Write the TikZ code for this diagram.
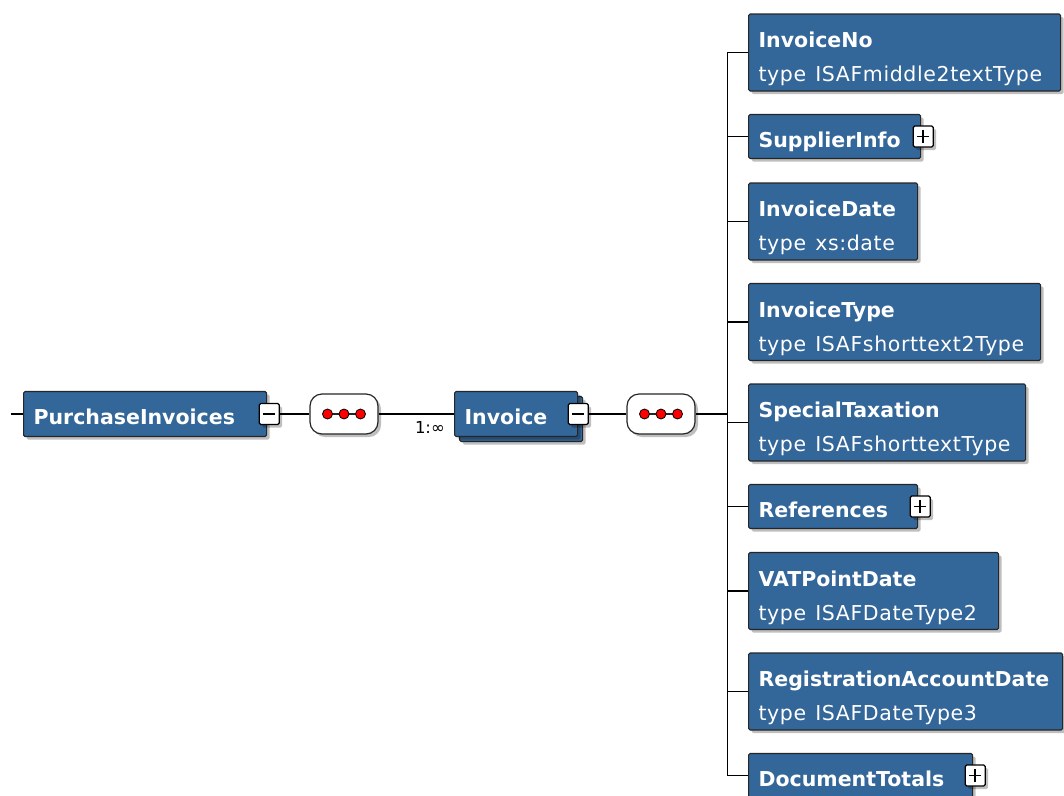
\documentclass[tikz,border=0pt]{standalone}
\usepackage{fontspec}
\setmainfont{DejaVu Sans}
\newfontfamily\typefont{DejaVu Sans}[LetterSpace=3]
\usetikzlibrary{shadows}
\definecolor{boxblue}{RGB}{51,102,153}

\begin{document}
\begin{tikzpicture}[x=1pt, y=-1pt,
  every node/.style={font=\fontsize{20.5}{34}\selectfont},
  conn/.style={line width=1.5pt, black},
  shade/.style={drop shadow={shadow xshift=3pt, shadow yshift=-3pt, fill=black, opacity=0.25}},
  elem/.style={draw=black!85, line width=1.2pt, fill=boxblue, rounded corners=1.5pt, text=white,
    anchor=west, inner xsep=10pt, inner ysep=0pt, align=left, font=\fontsize{20.5}{34}\selectfont\bfseries, shade},
  minusbox/.style={draw=black, fill=white, line width=1.2pt, rounded corners=1.5pt, minimum width=20pt,
    minimum height=21pt, inner sep=0pt, shade,
    path picture={\draw[line width=1.5pt] ([xshift=4pt]path picture bounding box.west) -- ([xshift=-4pt]path picture bounding box.east);}},
  plusbox/.style={draw=black, fill=white, line width=1.2pt, rounded corners=1.5pt, minimum width=20pt,
    minimum height=21pt, inner sep=0pt, shade,
    path picture={
      \draw[line width=1.5pt] ([xshift=4pt]path picture bounding box.west) -- ([xshift=-4pt]path picture bounding box.east);
      \draw[line width=1.5pt] ([yshift=4pt]path picture bounding box.south) -- ([yshift=-4pt]path picture bounding box.north);
    }},
  seqbox/.style={draw=black!85, line width=1.2pt, fill=white, rounded corners=12pt, minimum width=68pt,
    minimum height=40pt, inner sep=0pt, shade,
    path picture={
      \draw[line width=1.2pt] ([xshift=-16.5pt]path picture bounding box.center) -- ([xshift=16.5pt]path picture bounding box.center);
      \foreach \dx in {-16.5,0,16.5}
        \filldraw[fill=red, draw=black, line width=0.8pt] ([xshift=\dx pt]path picture bounding box.center) circle (5pt);
    }}]

  \useasboundingbox (0,0) rectangle (1064,795);
  \clip (0,0) rectangle (1064,795);

  \def\rowy{414}
  \def\busx{727.5}

  \coordinate (root) at (11,\rowy);
  \node[elem, minimum width=243pt, text width=223pt, minimum height=45pt, text height=33pt, text depth=12pt] (pi) at (23,\rowy) {PurchaseInvoices};
  \node[minusbox] (pi-m) at ([xshift=2pt]pi.east) {};
  \node[seqbox] (seq1) at (344,\rowy) {};

  \node[elem, minimum width=123pt, text width=103pt, minimum height=45pt] (inv-back) at (459,\rowy+5) {};
  \node[elem, minimum width=123pt, text width=103pt, minimum height=45pt, text height=33pt, text depth=12pt] (inv) at (454,\rowy) {Invoice};
  \node[minusbox] (inv-m) at (inv.east) {};
  \node[anchor=north east, inner sep=0pt, font=\fontsize{16.5}{18}\selectfont] (card) at ([xshift=-9pt, yshift=-7pt]inv.west) {1:∞};
  \node[seqbox] (seq2) at (661,\rowy) {};

  \coordinate (bus) at (\busx,\rowy);

  \draw[conn] (root) -- (pi);
  \draw[conn] (pi-m) -- (seq1);
  \draw[conn] (seq1) -- (inv);
  \draw[conn] (inv-m) -- (seq2);
  \draw[conn] (seq2) -- (bus);

  \foreach \nm/\cy/\w/\ttl/\typ in {
    ino/52.5/312/InvoiceNo/ISAFmiddle2textType,
    idate/221.5/169/InvoiceDate/xs:date,
    itype/322/292/InvoiceType/ISAFshorttext2Type,
    stax/422.5/277/SpecialTaxation/ISAFshorttextType,
    vpd/591/250/VATPointDate/ISAFDateType2,
    rad/691.5/314/RegistrationAccountDate/ISAFDateType3} {
    \pgfmathsetmacro{\tw}{\w-20}
    \node[elem, minimum width=\w pt, text width=\tw pt, minimum height=77pt] (\nm) at (748,\cy)
      {\rule{0pt}{29pt}\ttl\\\mbox{\typefont\mdseries\fontsize{20.5}{34}\selectfont type\hspace{9pt}\typ}};
    \draw[conn] (bus) |- (\nm.west);
  }

  \foreach \nm/\cy/\w/\ttl in {
    sinfo/136.5/172/SupplierInfo,
    refs/506.5/169/References,
    dtot/775.5/224/DocumentTotals} {
    \pgfmathsetmacro{\tw}{\w-20}
    \node[elem, minimum width=\w pt, text width=\tw pt, minimum height=44pt, text height=33pt, text depth=11pt] (\nm) at (748,\cy) {\ttl};
    \node[plusbox] (\nm-x) at ([xshift=2pt]\nm.east) {};
    \draw[conn] (bus) |- (\nm.west);
  }

\end{tikzpicture}
\end{document}
